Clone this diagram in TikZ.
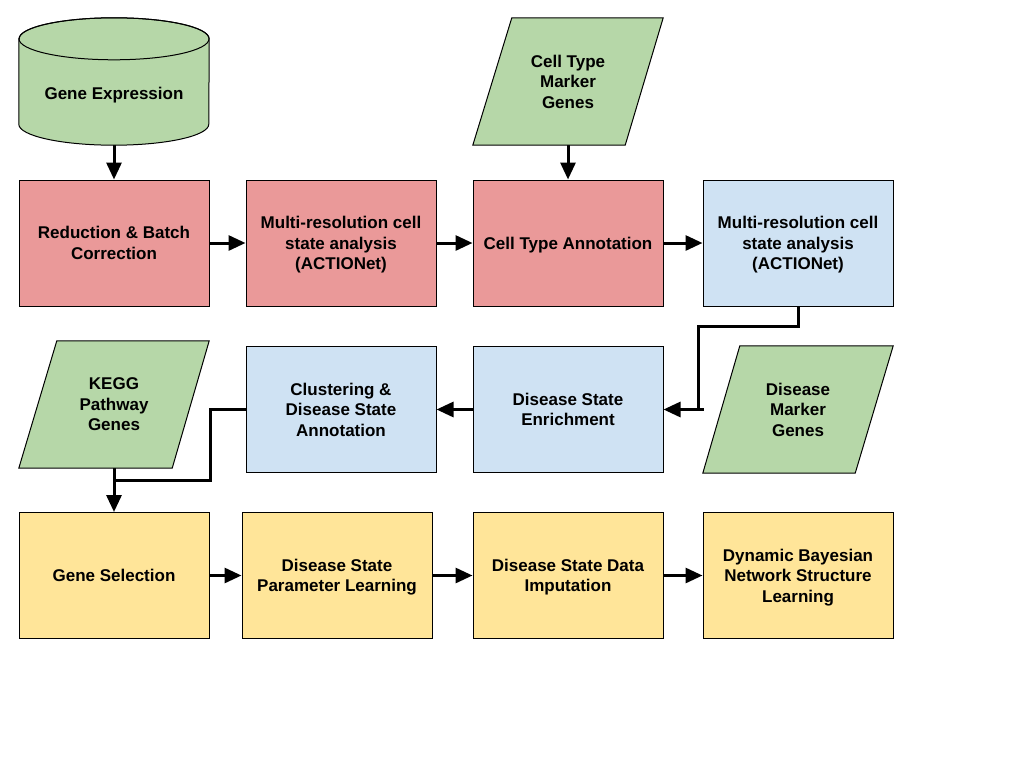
\documentclass[tikz,border=0pt]{standalone}
\usepackage{fontspec}
\setmainfont{Liberation Sans}
\usetikzlibrary{arrows.meta,calc}
\definecolor{cred}{HTML}{EA9999}
\definecolor{cgreen}{HTML}{B6D7A8}
\definecolor{cblue}{HTML}{CFE2F3}
\definecolor{cyellow}{HTML}{FFE599}
\pgfdeclarelayer{bg}
\pgfdeclarelayer{shapes}
\pgfsetlayers{bg,shapes,main}
\tikzset{
  base/.style={minimum width=190pt, minimum height=126pt, inner sep=2pt, align=center,
    text depth=0pt, font=\fontsize{17}{20.5}\selectfont\bfseries},
  box/.style={base, draw=black, line width=1pt, fill=#1},
  ghost/.style={base, minimum height=127pt},
  shapeline/.style={draw=black, line width=1pt},
  conn/.style={line width=3pt, line cap=rect, line join=miter},
  arr/.style={line width=3pt, -{Triangle[length=17pt,width=15pt]}},
}
\begin{document}
\begin{tikzpicture}[x=1pt,y=-1pt]
\useasboundingbox (0,0) rectangle (1024,768);
% row 1
\node[ghost] (ge) at (114,81.5) {};
\node[base, minimum height=0pt, minimum width=0pt] (getxt) at (114,93) {Gene Expression};
\node[ghost] (ctm) at (568,81.5) {Cell Type\\Marker\\Genes};
\node[box=cred] (rbc) at (114,243) {Reduction \& Batch\\Correction};
\node[box=cred] (mrc1) at (341,243) {Multi-resolution cell\\state analysis\\(ACTIONet)};
\node[box=cred] (cta) at (568,243) {Cell Type Annotation};
\node[box=cblue] (mrc2) at (798,243) {Multi-resolution cell\\state analysis\\(ACTIONet)};
% row 2
\node[ghost] (kegg) at (114,404.5) {KEGG\\Pathway\\Genes};
\node[box=cblue] (cds) at (341,409.5) {Clustering \&\\Disease State\\Annotation};
\node[box=cblue] (dse) at (568,409.5) {Disease State\\Enrichment};
\node[ghost] (dmg) at (798,409.5) {Disease\\Marker\\Genes};
% row 3
\node[box=cyellow] (gs) at (114,575.5) {Gene Selection};
\node[box=cyellow] (dspl) at (337,575.5) {Disease State\\Parameter Learning};
\node[box=cyellow] (dsdi) at (568,575.5) {Disease State Data\\Imputation};
\node[box=cyellow] (dbn) at (798,575.5) {Dynamic Bayesian\\Network Structure\\Learning};

\begin{pgfonlayer}{shapes}
  % cylinder
  \path[shapeline, fill=cgreen]
    ($(ge.north west)+(0,21)$) -- ($(ge.south west)+(0,-21)$)
    arc[start angle=180, end angle=360, x radius=95pt, y radius=21pt]
    -- ($(ge.north east)+(0,21)$)
    arc[start angle=0, end angle=180, x radius=95pt, y radius=21pt] -- cycle;
  \draw[shapeline] ($(ge.north)+(0,21)$) ellipse[x radius=95pt, y radius=21pt];
  % parallelograms
  \path[shapeline, fill=cgreen] (ctm.south west) -- ($(ctm.north west)+(39,0)$)
    -- (ctm.north east) -- ($(ctm.south east)+(-38,0)$) -- cycle;
  \path[shapeline, fill=cgreen] (kegg.south west) -- ($(kegg.north west)+(38,0)$)
    -- (kegg.north east) -- ($(kegg.south east)+(-37,0)$) -- cycle;
  \path[shapeline, fill=cgreen] (dmg.south west) -- ($(dmg.north west)+(37,0)$)
    -- (dmg.north east) -- ($(dmg.south east)+(-38,0)$) -- cycle;
\end{pgfonlayer}

\coordinate (j1) at (698,409.5);
\coordinate (j2) at (114,480);
\begin{pgfonlayer}{bg}
  \draw[arr] (ge.south) -- (rbc.north);
  \draw[arr] (ctm.south) -- (cta.north);
  \draw[arr] (rbc.east) -- (mrc1.west);
  \draw[arr] (mrc1.east) -- (cta.west);
  \draw[arr] (cta.east) -- (mrc2.west);
  \draw[conn] (mrc2.south) -- ++(0,20) -| (j1);
  \draw[conn] (dmg.west) -- (j1);
  \draw[arr] (j1) -- (dse.east);
  \draw[arr] (dse.west) -- (cds.east);
  \draw[conn] (cds.west) -- (210,409.5) |- (j2);
  \draw[conn] (kegg.south) -- (j2);
  \draw[arr] (j2) -- (gs.north);
  \draw[arr] (gs.east) -- (dspl.west);
  \draw[arr] (dspl.east) -- (dsdi.west);
  \draw[arr] (dsdi.east) -- (dbn.west);
\end{pgfonlayer}
\end{tikzpicture}
\end{document}
